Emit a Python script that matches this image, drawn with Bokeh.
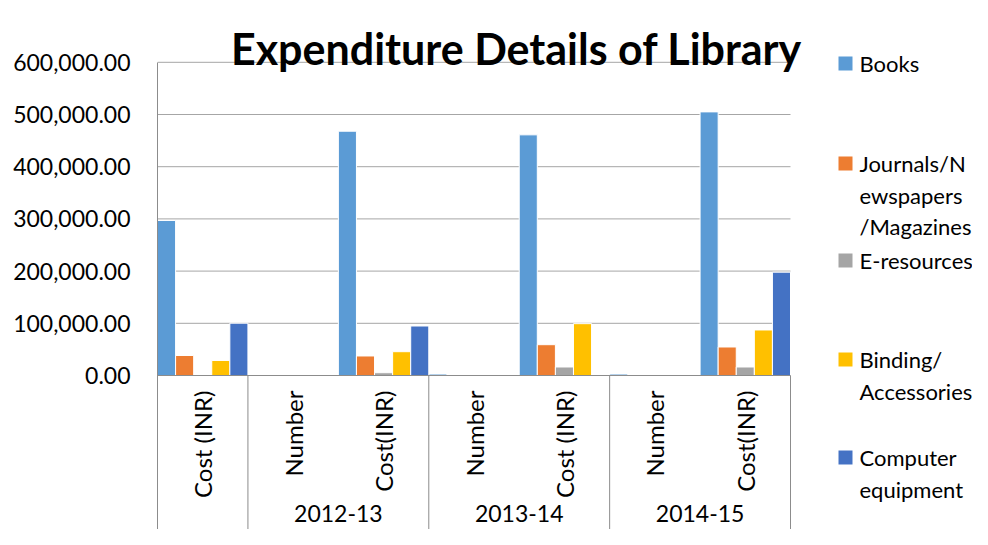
import math
from bokeh.plotting import figure
from bokeh.models import Range1d, FixedTicker, NumeralTickFormatter
from bokeh.core.properties import value
from bokeh.embed import file_html
from bokeh.resources import INLINE

# ---------------- data ----------------
title_text = "Expenditure Details of Library"
categories = ["Cost (INR)", "Number", "Cost(INR)", "Number", "Cost (INR)", "Number", "Cost(INR)"]
category_years = ["", "2012-13", "2012-13", "2013-14", "2013-14", "2014-15", "2014-15"]
years = ["2012-13", "2013-14", "2014-15"]

series_names = ["Books", "Journals/Newspapers/Magazines", "E-resources",
                "Binding/Accessories", "Computer equipment"]
legend_lines = [["Books"], ["Journals/N", "ewspapers", "/Magazines"], ["E-resources"],
                ["Binding/", "Accessories"], ["Computer", "equipment"]]
series_colors = ["#5B9BD5", "#ED7D31", "#A5A5A5", "#FFC000", "#4472C4"]

books = [297000, 0, 468000, 2800, 461000, 2800, 505000]
journals = [38300, 0, 37400, 0, 59000, 0, 54600]
eresources = [0, 0, 5300, 0, 16300, 0, 16300]
binding = [28800, 0, 45600, 0, 99300, 0, 87200]
computer = [100200, 0, 94800, 0, 0, 0, 198000]
series_values = [books, journals, eresources, binding, computer]

y_ticks = [0, 100000, 200000, 300000, 400000, 500000, 600000]

# ---------------- layout (figure pixels) ----------------
W, H = 972, 529
FRAME_LEFT = 157
CAT_PX = 90.43
ZERO_PX = 375
PX_PER_100K = 52.2
U = 100000 / PX_PER_100K
FONT = "Lato"
GRID_COLOR = "#a6a6a6"
AXIS_COLOR = "#8c8c8c"


def dx(px):
    return (px - FRAME_LEFT) / CAT_PX


def dy(py):
    return (ZERO_PX - py) * U


p = figure(width=W, height=H, output_backend="svg", toolbar_location=None,
           x_range=Range1d(dx(FRAME_LEFT), dx(W)), y_range=Range1d(dy(H), dy(0)),
           x_axis_location=None, min_border_left=FRAME_LEFT, min_border_right=0,
           min_border_top=0, min_border_bottom=0)
p.outline_line_color = None
p.grid.visible = False
p.background_fill_color = "white"
p.border_fill_color = "white"

ax = p.yaxis[0]
ax.ticker = FixedTicker(ticks=y_ticks)
ax.formatter = NumeralTickFormatter(format="0,0.00")
ax.major_label_text_font = FONT
ax.major_label_text_font_size = "23px"
ax.major_label_text_color = "black"
ax.major_tick_line_color = None
ax.minor_tick_line_color = None
ax.major_tick_out = 0
ax.major_tick_in = 0
ax.major_label_standoff = 27
ax.axis_line_color = AXIS_COLOR
ax.axis_line_width = 1
ax.bounds = (dy(H), max(y_ticks))

n = len(categories)
nser = len(series_values)

# gridlines (above zero)
grid_vals = [t for t in y_ticks if t > 0]
p.segment(x0=[0] * len(grid_vals), x1=[n] * len(grid_vals), y0=grid_vals, y1=grid_vals,
          line_color=GRID_COLOR, line_width=1)

# bars
for s, vals in enumerate(series_values):
    xs = [i + (s + 0.5) / nser for i in range(n) if vals[i] > 0]
    tops = [v for v in vals if v > 0]
    p.vbar(x=xs, top=tops, bottom=0, width=1.0 / nser, fill_color=series_colors[s],
           line_color="white", line_width=1)

# category axis line and separators
p.segment(x0=[0], x1=[n], y0=[0], y1=[0], line_color=AXIS_COLOR, line_width=1)
bounds = [i + 1 for i in range(n) if i == n - 1 or category_years[i] != category_years[i + 1]]
p.segment(x0=bounds, x1=bounds, y0=[0] * len(bounds), y1=[dy(H)] * len(bounds),
          line_color=AXIS_COLOR, line_width=1)

# sub-category labels (rotated)
p.text(x=[i + 0.5 for i in range(n)], y=[dy(390)] * n, text=categories, angle=math.pi / 2,
       text_align="right", text_baseline="middle", text_font=value(FONT),
       text_font_size="24px", text_color="black")

# year labels
yx = []
for yr in years:
    idx = [i for i in range(n) if category_years[i] == yr]
    yx.append((min(idx) + max(idx) + 1) / 2)
p.text(x=yx, y=[dy(513)] * len(years), text=years, text_align="center",
       text_baseline="middle", text_font=value(FONT), text_font_size="23px",
       text_color="black")

# title
p.text(x=[dx(516)], y=[dy(48)], text=[title_text], text_align="center",
       text_baseline="alphabetic", text_font=value(FONT), text_font_style="bold",
       text_font_size="43px", text_color="black")

# legend
item_centers = [63, 163, 260, 359, 457]
LINE_H = 31.7
p.rect(x=[dx(845)] * nser, y=[dy(c) for c in item_centers], width=14, height=14,
       width_units="screen", height_units="screen", fill_color=series_colors, line_color=None)
lx, ly, lt = [], [], []
for c, lines in zip(item_centers, legend_lines):
    for k, t in enumerate(lines):
        lx.append(dx(859))
        ly.append(dy(c + k * LINE_H))
        lt.append(t)
p.text(x=lx, y=ly, text=lt, text_align="left", text_baseline="middle",
       text_font=value(FONT), text_font_size="22px", text_color="black")

open("out.html", "w").write(file_html(p, INLINE))
